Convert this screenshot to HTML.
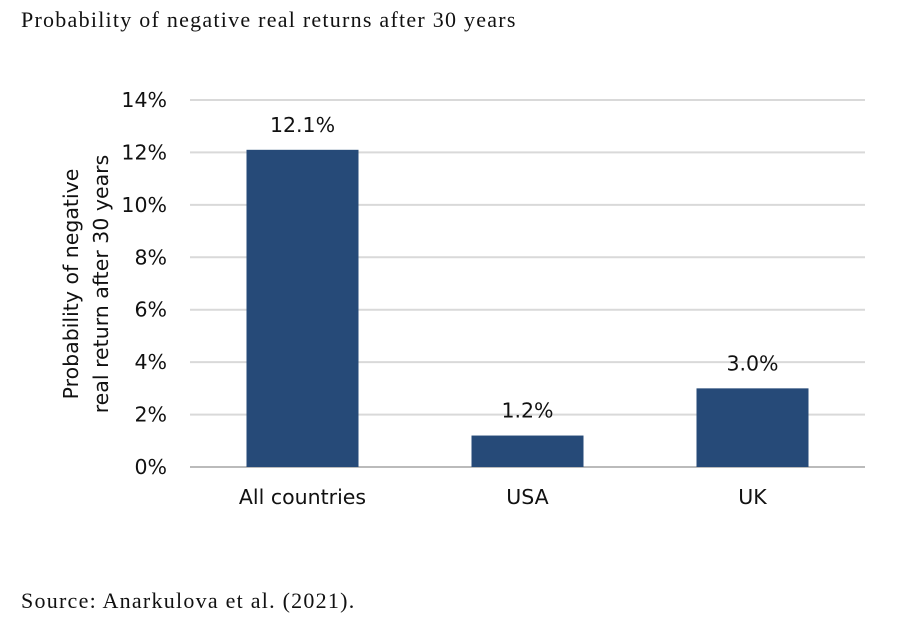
<!DOCTYPE html>
<html><head><meta charset="utf-8"><style>
body{margin:0;background:#fff;width:908px;height:628px;overflow:hidden}
.t{position:absolute;font-family:"Liberation Serif",serif;color:#111;font-size:22px;letter-spacing:1.25px}
</style></head><body>
<div class="t" style="left:21px;top:7px">Probability of negative real returns after 30 years</div>
<div class="t" style="left:21px;top:588px">Source: Anarkulova et al. (2021).</div>
<svg id="c" width="908" height="628" style="position:absolute;left:0;top:0" font-family="DejaVu Sans, sans-serif"></svg>
<script>
const categories=["All countries","USA","UK"];
const values=[12.1,1.2,3.0];
const valueLabels=["12.1%","1.2%","3.0%"];
const ticks=[0,2,4,6,8,10,12,14];
const NS="http://www.w3.org/2000/svg";
const svg=document.getElementById('c');
const y0=467,yTop=100,vMax=14,x0=190,x1=865;
const y=v=>y0-(v/vMax)*(y0-yTop);
const band=(x1-x0)/categories.length;
const xc=i=>x0+band*(i+0.5);
function mk(tag,a,txt){const e=document.createElementNS(NS,tag);for(const k in a)e.setAttribute(k,a[k]);if(txt!==undefined)e.textContent=txt;svg.appendChild(e);return e;}
ticks.forEach(t=>{
 const g=mk('line',{x1:x0,x2:x1,y1:y(t),y2:y(t),stroke:t===0?'#bbb':'#d9d9d9','stroke-width':2});
 
 
 const l=mk('text',{x:167,y:y(t)+7,'text-anchor':'end','font-size':20.5,fill:'#111'},t+'%');
 
 
});
categories.forEach((c,i)=>{
 const w=112;
 const b=mk('rect',{x:xc(i)-w/2,y:y(values[i]),width:w,height:y0-y(values[i]),fill:'#264a78'});
 
 
 const v=mk('text',{x:xc(i),y:y(values[i])-18,'text-anchor':'middle','font-size':20.5,fill:'#111'},valueLabels[i]);
 
 
 const cl=mk('text',{x:xc(i),y:504,'text-anchor':'middle','font-size':20.5,fill:'#111'},c);
 
 
});
const yt=mk('text',{transform:'translate(78,284) rotate(-90)','text-anchor':'middle','font-size':20.5,fill:'#111'});


const s1=document.createElementNS(NS,'tspan');s1.setAttribute('x',0);s1.setAttribute('dy',0);s1.textContent='Probability of negative';yt.appendChild(s1);
const s2=document.createElementNS(NS,'tspan');s2.setAttribute('x',0);s2.setAttribute('dy',30);s2.textContent='real return after 30 years';yt.appendChild(s2);
</script>
</body></html>
